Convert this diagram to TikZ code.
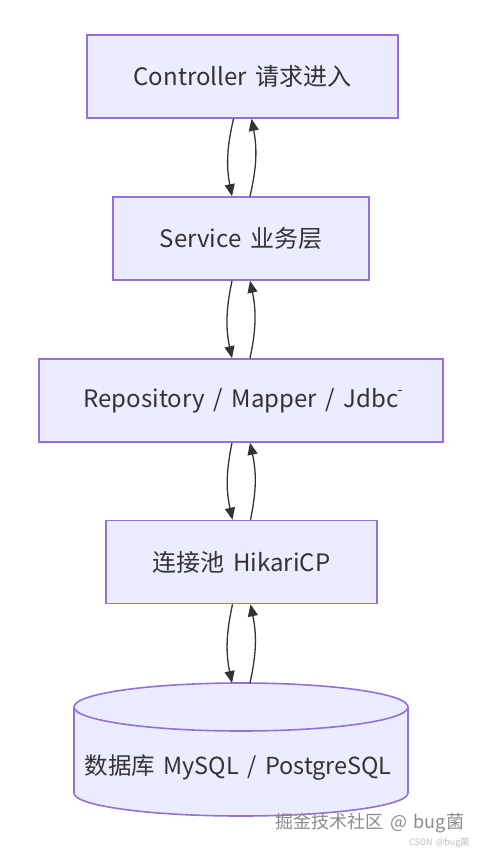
\documentclass[tikz,border=0pt]{standalone}
\usepackage{fontspec}
\setmainfont{Noto Sans CJK SC}[WordSpace=1.6]
\usetikzlibrary{arrows.meta,positioning,calc}

\definecolor{boxFill}{HTML}{ECECFF}
\definecolor{boxBorder}{HTML}{9370DB}
\definecolor{lineColor}{HTML}{333333}
\definecolor{textColor}{HTML}{333333}

\tikzset{
    layer/.style={draw=boxBorder, fill=boxFill, line width=1.6pt, minimum height=83pt,
        font=\fontsize{24}{28}\selectfont, text=textColor, inner sep=0pt},
    flow/.style={-{Triangle[length=12pt,width=10pt]}, line width=1.3pt, lineColor},
}

\begin{document}
\begin{tikzpicture}[x=1pt, y=1pt]
    % canvas
    \useasboundingbox (0,0) rectangle (479,-852);
    \fill[white] (0,0) rectangle (479,-852);

    % --- Layers ---
    \node[layer, minimum width=311pt] (ctrl) at (242.5,-76.5) {Controller 请求进入};
    \node[layer, minimum width=256pt] (svc) at (241,-238.5) {Service 业务层};
    \node[layer, minimum width=404pt] (repo) at (241,-400.5) {Repository / Mapper / Jdbc\rlap{\raisebox{16pt}{\rule{4pt}{1.5pt}}}};
    \node[layer, minimum width=271pt] (pool) at (241.5,-562) {连接池 HikariCP};

    % --- Database (cylinder) ---
    \fill[boxFill] (74,-707) -- (74,-793) arc[start angle=180, end angle=360, x radius=167, y radius=23]
        -- (408,-707) -- cycle;
    \draw[boxBorder, line width=1.6pt, fill=boxFill] (241,-707) ellipse[x radius=167, y radius=24];
    \draw[boxBorder, line width=1.6pt] (74,-707) -- (74,-793) arc[start angle=180, end angle=360, x radius=167, y radius=23]
        -- (408,-707);
    \node[font=\fontsize{23.5}{28}\selectfont, text=textColor] (db) at (238,-768) {数据库 MySQL / PostgreSQL};
    \coordinate (dbtop) at (241,-683);

    % --- Calls down and returns up ---
    \draw[flow] ([xshift=-9pt]ctrl.south) to[bend right=12] ([xshift=-9pt]svc.north);
    \draw[flow] ([xshift=9pt]svc.north) to[bend right=12] ([xshift=9pt]ctrl.south);
    \draw[flow] ([xshift=-9pt]svc.south) to[bend right=12] ([xshift=-9pt]repo.north);
    \draw[flow] ([xshift=9pt]repo.north) to[bend right=12] ([xshift=9pt]svc.south);
    \draw[flow] ([xshift=-9pt]repo.south) to[bend right=12] ([xshift=-9pt]pool.north);
    \draw[flow] ([xshift=9pt]pool.north) to[bend right=12] ([xshift=9pt]repo.south);
    \draw[flow] ([xshift=-9pt]pool.south) to[bend right=12] ([xshift=-9pt]dbtop);
    \draw[flow] ([xshift=9pt]dbtop) to[bend right=12] ([xshift=9pt]pool.south);

    % watermarks
    \node[font=\fontsize{18}{20}\selectfont, text=black!45] (mark) at (370,-823) {掘金技术社区 @ bug菌};
    \node[font=\fontsize{9}{10}\selectfont, text=black!25, anchor=east] (csdn) at (473,-843) {CSDN @bug菌};
\end{tikzpicture}
\end{document}
